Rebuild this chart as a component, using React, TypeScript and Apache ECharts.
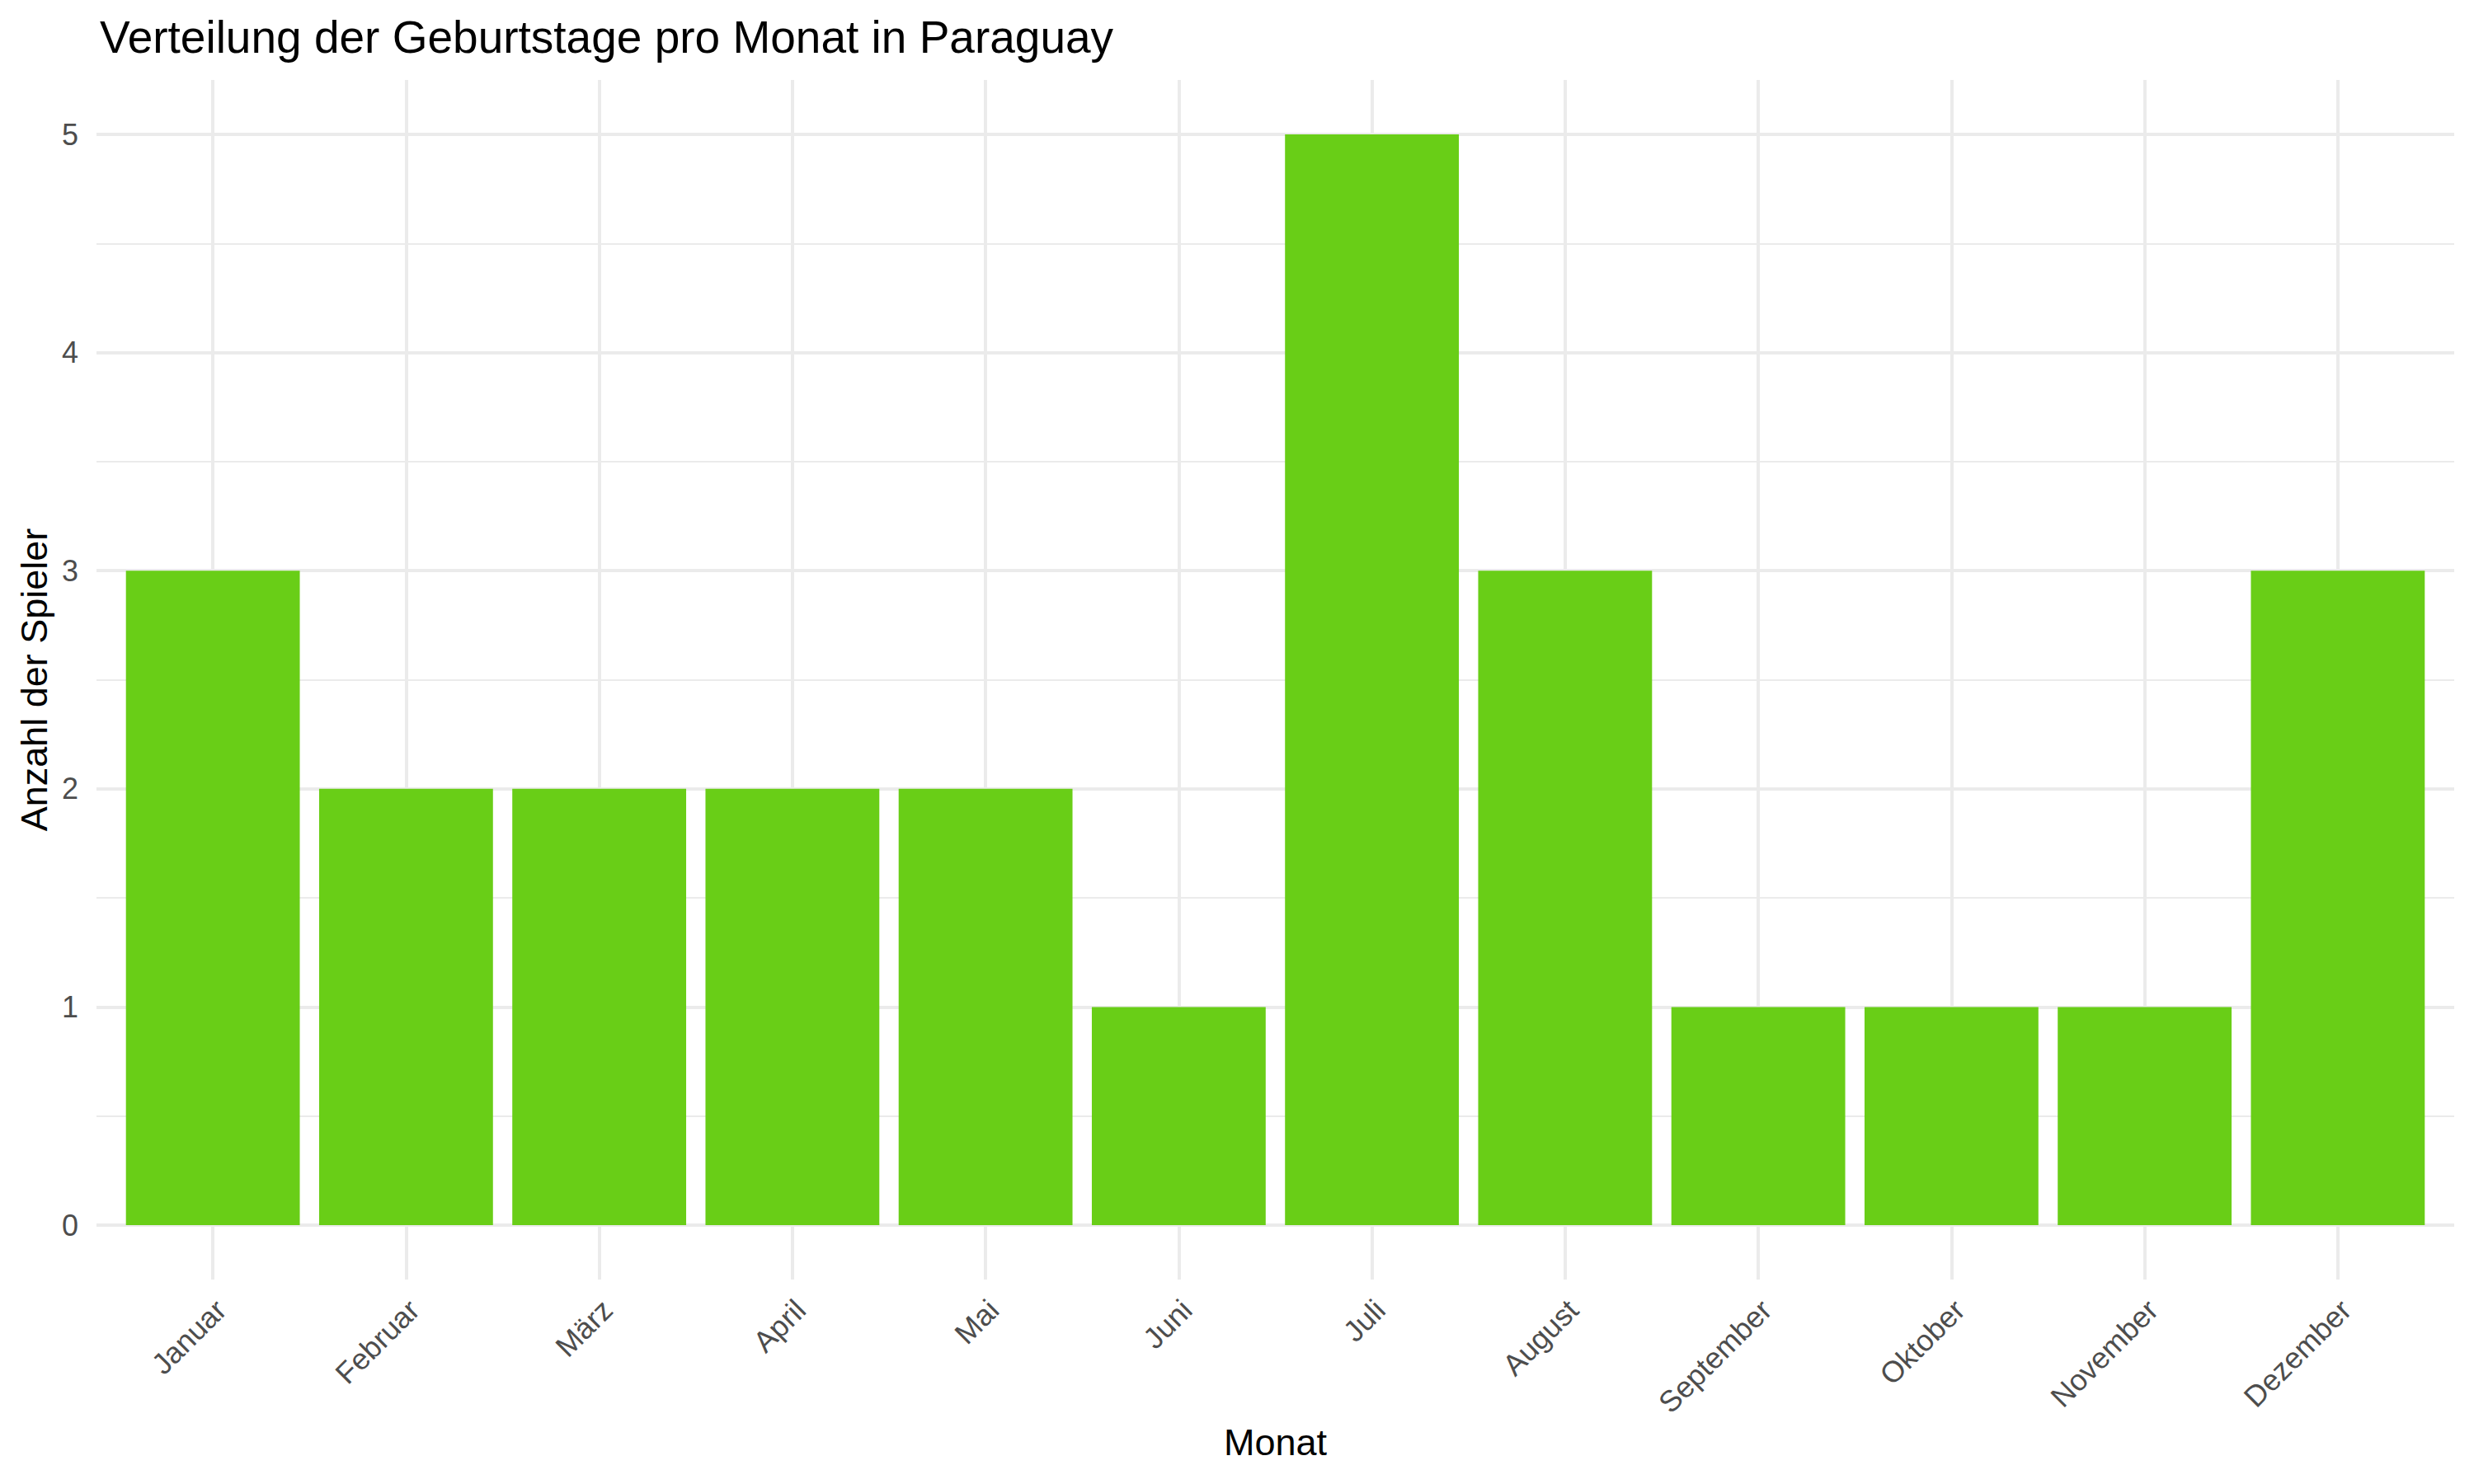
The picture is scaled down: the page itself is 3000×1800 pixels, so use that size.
import React, { useEffect, useRef } from "react";
import * as echarts from "echarts";

const months = [
  "Januar",
  "Februar",
  "März",
  "April",
  "Mai",
  "Juni",
  "Juli",
  "August",
  "September",
  "Oktober",
  "November",
  "Dezember",
];
const counts = [3, 2, 2, 2, 2, 1, 5, 3, 1, 1, 1, 3];
const yMin = 0;
const yMax = 5;
const yStep = 1;

const titleText = "Verteilung der Geburtstage pro Monat in Paraguay";
const xTitle = "Monat";
const yTitle = "Anzahl der Spieler";

const FONT = "'Liberation Sans', Arial, Helvetica, sans-serif";
const GRID_COLOR = "#EBEBEB";
const BAR_COLOR = "#69CE17";

export default function App() {
  const ref = useRef<HTMLDivElement>(null);

  useEffect(() => {
    if (!ref.current) return;
    const chart = echarts.init(ref.current, null, { renderer: "svg" });
    const option: any = {
      animation: false,
      backgroundColor: "#FFFFFF",
      title: {
        text: titleText,
        left: 121,
        top: 17,
        padding: 0,
        textStyle: {
          fontFamily: FONT,
          fontSize: 55,
          fontWeight: "normal",
          color: "#000000",
        },
      },
      grid: [
        { left: 117, right: 24, top: 163, bottom: 314 },
        { left: 141, right: 48, top: 163, bottom: 314 },
        { left: 258, right: 165, top: 97, bottom: 248 },
        { left: 138, right: 51, top: 163, bottom: 314 },
      ],
      xAxis: [
        { gridIndex: 0, type: "value", min: 0, max: 1, show: false },
        { gridIndex: 1, type: "category", data: months, show: false },
        {
          gridIndex: 2,
          type: "value",
          min: 0,
          max: months.length - 1,
          interval: 1,
          axisLine: { show: false },
          axisTick: { show: false },
          axisLabel: { show: false },
          splitLine: {
            show: true,
            showMinLine: true,
            showMaxLine: true,
            lineStyle: { color: GRID_COLOR, width: 4 },
          },
          name: xTitle,
          nameLocation: "middle",
          nameGap: 175,
          nameTextStyle: { fontFamily: FONT, fontSize: 45, color: "#000000" },
        },
        {
          gridIndex: 3,
          type: "category",
          data: months,
          axisLine: { show: false },
          axisTick: { show: false },
          splitLine: { show: false },
          axisLabel: {
            interval: 0,
            rotate: 45,
            margin: 84,
            align: "right",
            verticalAlign: "top",
            fontFamily: FONT,
            fontSize: 36,
            color: "#4D4D4D",
          },
        },
      ],
      yAxis: [
        {
          gridIndex: 0,
          type: "value",
          min: yMin,
          max: yMax,
          interval: yStep,
          axisLine: { show: false },
          axisTick: { show: false },
          axisLabel: {
            margin: 22,
            fontFamily: FONT,
            fontSize: 36,
            color: "#4D4D4D",
          },
          splitLine: { show: true, lineStyle: { color: GRID_COLOR, width: 4 } },
          minorTick: { show: false, splitNumber: 2 },
          minorSplitLine: { show: true, lineStyle: { color: GRID_COLOR, width: 2 } },
          name: yTitle,
          nameLocation: "middle",
          nameGap: 52,
          nameTextStyle: { fontFamily: FONT, fontSize: 45, color: "#000000" },
        },
        { gridIndex: 1, type: "value", min: yMin, max: yMax, show: false },
        { gridIndex: 2, type: "value", min: 0, max: 1, show: false },
        { gridIndex: 3, type: "value", min: yMin, max: yMax, show: false },
      ],
      series: [
        {
          type: "bar",
          xAxisIndex: 1,
          yAxisIndex: 1,
          data: counts,
          barCategoryGap: "10%",
          itemStyle: { color: BAR_COLOR },
        },
      ],
    };
    chart.setOption(option);
    return () => chart.dispose();
  }, []);

  return (
    <div
      ref={ref}
      style={{ position: "fixed", left: 0, top: 0, width: 3000, height: 1800 }}
    />
  );
}
